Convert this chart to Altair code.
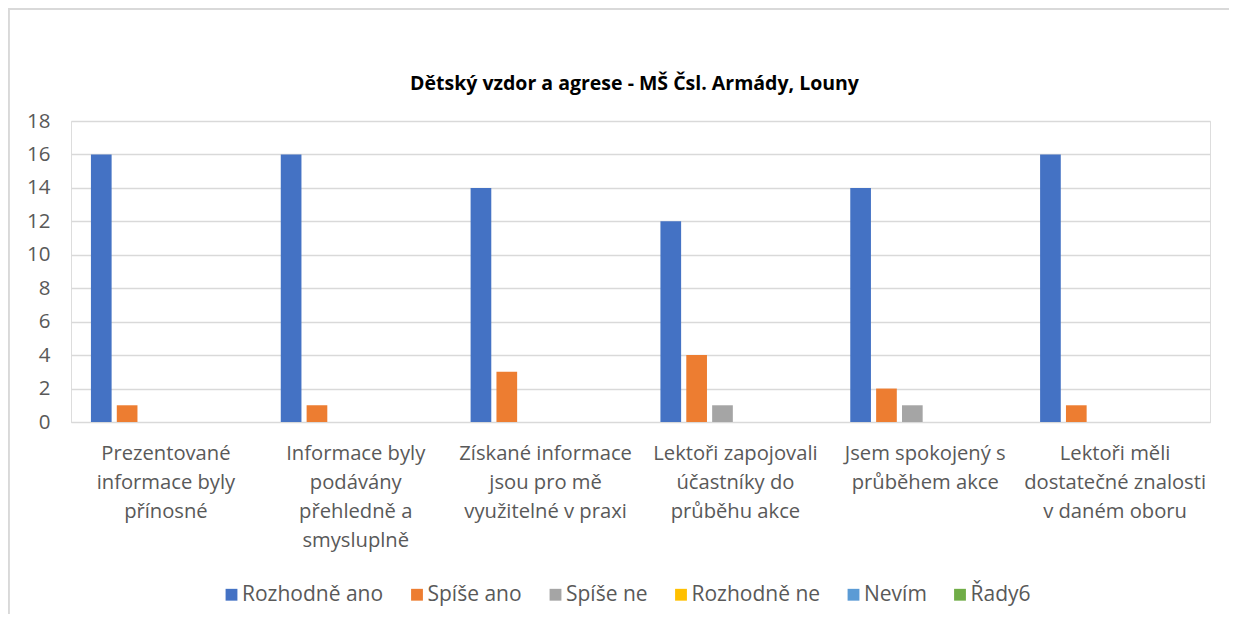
import altair as alt
import pandas as pd

categories = [
    "Prezentované|informace byly|přínosné",
    "Informace byly|podávány|přehledně a|smysluplně",
    "Získané informace|jsou pro mě|využitelné v praxi",
    "Lektoři zapojovali|účastníky do|průběhu akce",
    "Jsem spokojený s|průběhem akce",
    "Lektoři měli|dostatečné znalosti|v daném oboru",
]
series = ["Rozhodně ano", "Spíše ano", "Spíše ne", "Rozhodně ne", "Nevím", "Řady6"]
colors = ["#4472C4", "#ED7D31", "#A5A5A5", "#FFC000", "#5B9BD5", "#70AD47"]
values = {
    "Rozhodně ano": [16, 16, 14, 12, 14, 16],
    "Spíše ano": [1, 1, 3, 4, 2, 1],
    "Spíše ne": [0, 0, 0, 1, 1, 0],
    "Rozhodně ne": [0, 0, 0, 0, 0, 0],
    "Nevím": [0, 0, 0, 0, 0, 0],
    "Řady6": [0, 0, 0, 0, 0, 0],
}
y_ticks = [0, 2, 4, 6, 8, 10, 12, 14, 16, 18]
title_text = "Dětský vzdor a agrese - MŠ Čsl. Armády, Louny"

rows = []
for s in series:
    for c, v in zip(categories, values[s]):
        rows.append({"cat": c, "series": s, "value": v})
df = pd.DataFrame(rows)

FONT = "Open Sans"
W, H = 1139, 301

bars = alt.Chart(df).mark_bar().encode(
    x=alt.X("cat:N", sort=categories, title=None,
            scale=alt.Scale(paddingInner=0.21, paddingOuter=0.105),
            axis=alt.Axis(labelExpr="split(datum.label, '|')", labelAngle=0,
                          labelFontSize=20.2, labelColor="#595959", labelFont=FONT,
                          labelLineHeight=29, labelPadding=21, ticks=False,
                          labelLimit=400,
                          domain=True, domainColor="#d9d9d9", labelBaseline="top")),
    xOffset=alt.XOffset("series:N", sort=series,
                        scale=alt.Scale(paddingInner=0.2)),
    y=alt.Y("value:Q", title=None,
            scale=alt.Scale(domain=[0, 18], nice=False),
            axis=alt.Axis(values=y_ticks, labelFontSize=20.5, labelColor="#595959",
                          labelFont=FONT, labelPadding=21, ticks=False, domain=False,
                          gridColor="#d9d9d9", gridWidth=1.3)),
    color=alt.Color("series:N", sort=series,
                    scale=alt.Scale(domain=series, range=colors),
                    legend=alt.Legend(title=None, orient="none", direction="horizontal",
                                      legendX=150, legendY=463, symbolType="square",
                                      symbolSize=140, symbolStrokeWidth=0,
                                      labelFontSize=21, labelColor="#595959",
                                      labelFont=FONT, columnPadding=22.5,
                                      symbolOffset=0, labelOffset=0)),
)

title = alt.Chart(pd.DataFrame({"t": [title_text]})).mark_text(
    font=FONT, fontSize=19.5, fontWeight="bold", color="#000000",
    align="center", baseline="alphabetic", clip=False
).encode(text="t:N", x=alt.value(W / 2 - 6), y=alt.value(-31))

border = alt.Chart(df).mark_rule(color="#d9d9d9", strokeWidth=1.5, clip=False).encode(
    x=alt.value(-62.5), x2=alt.value(-62.5), y=alt.value(-112), y2=alt.value(H + 192)
)
border_top = alt.Chart(df).mark_rule(color="#d9d9d9", strokeWidth=1.5, clip=False).encode(
    x=alt.value(-63), x2=alt.value(W + 19), y=alt.value(-112), y2=alt.value(-112)
)

chart = alt.layer(bars, title, border, border_top).properties(
    width=W, height=H,
    padding={"left": 63, "top": 113, "right": 19, "bottom": 192},
    autosize=alt.AutoSizeParams(type="none"),
).configure_view(stroke=None).configure(background="white")

chart.save("out.html", embed_options={"renderer": "svg", "actions": False})
